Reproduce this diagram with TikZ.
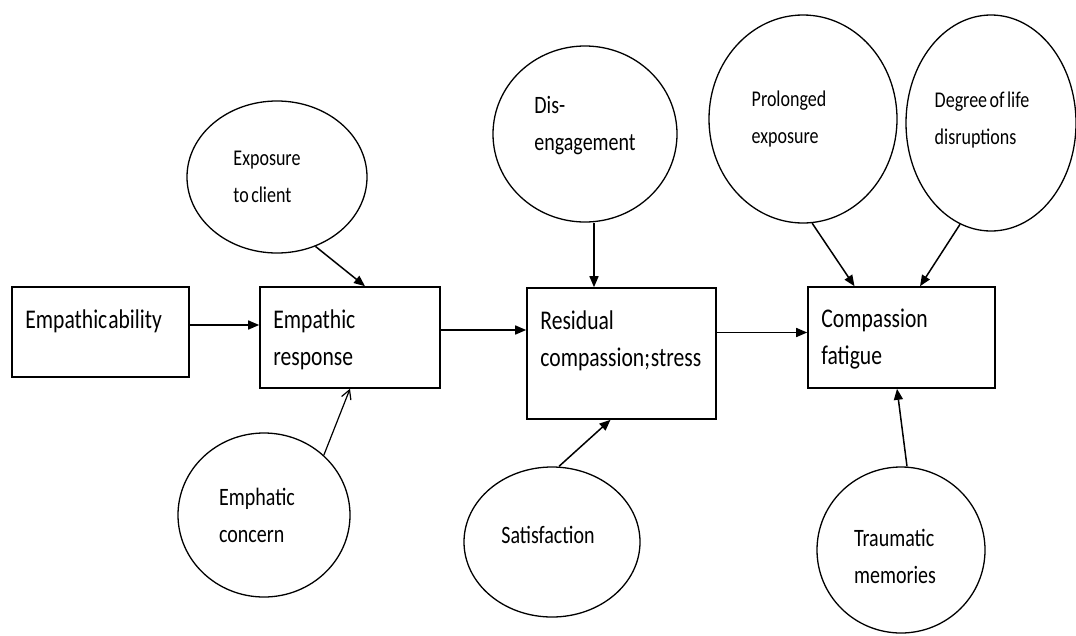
\documentclass[tikz,border=0pt]{standalone}
\usepackage{fontspec}
\setmainfont{Carlito}[FakeStretch=0.8,WordSpace=0.6]
\usetikzlibrary{arrows.meta,shapes.geometric}
\newcommand{\boxfont}{\fontsize{27}{37}\selectfont}
\newcommand{\bigfont}{\fontsize{25}{37}\selectfont}
\newcommand{\smallfont}{\fontsize{22.5}{37}\selectfont}

\begin{document}
\begin{tikzpicture}[x=1pt, y=-1pt,
    stage/.style={draw, rectangle, line width=1.6pt, inner sep=0pt,
      label={[anchor=north west, inner sep=0pt, align=left, font=\boxfont,
        xshift=14pt, yshift=-23pt]north west:{#1}}},
    cue/.style={draw, ellipse, line width=1.3pt, inner sep=0pt},
    arr/.style={line width=1.5pt, -{Triangle[length=11pt, width=9pt]}},
    openarr/.style={line width=1.2pt, -{Straight Barb[length=9pt, width=10pt]}}]
  \useasboundingbox (0,0) rectangle (1076,635);

  % main chain
  \node[stage={Empathic\hspace{-2pt} ability}, minimum width=177pt, minimum height=90pt] (ability) at (100.5,332) {};
  \node[stage={Empathic\\response}, minimum width=180pt, minimum height=101pt] (resp) at (350,337.5) {};
  \node[stage={Residual\\compassion;\hspace{-2pt} stress}, minimum width=189pt, minimum height=131pt] (resid) at (621.5,353.5) {};
  \node[stage={Compassion\\fatigue}, minimum width=187pt, minimum height=101pt] (fat) at (901.5,337.5) {};

  % influences
  \node[cue, minimum width=180pt, minimum height=152pt,
    label={[xshift=-10pt, align=left, font=\smallfont]center:{Exposure\\to client}}] (exposure) at (277,177) {};
  \node[cue, minimum width=172pt, minimum height=164pt,
    label={[xshift=-7pt, align=left, font=\bigfont]center:{Emphatic\\concern}}] (concern) at (264,515) {};
  \node[cue, minimum width=184pt, minimum height=176pt,
    label={[yshift=8pt, align=left, font=\bigfont]center:{Dis-\\engagement}}] (diseng) at (585,134) {};
  \node[cue, minimum width=176pt, minimum height=150pt,
    label={[xshift=-4pt, yshift=7pt, font=\bigfont]center:Satisfaction}] (satis) at (552,542) {};
  \node[cue, minimum width=188pt, minimum height=208pt,
    label={[xshift=-14pt, align=left, font=\smallfont]center:{Prolonged\\exposure}}] (prol) at (803,119) {};
  \node[cue, minimum width=170pt, minimum height=216pt,
    label={[xshift=-9pt, yshift=3pt, align=left, font=\smallfont]center:{Degree of life\\disruptions}}] (degree) at (991,123) {};
  \node[cue, minimum width=168pt, minimum height=166pt,
    label={[xshift=-6pt, yshift=-6pt, align=left, font=\bigfont]center:{Traumatic\\memories}}] (trauma) at (901,550) {};

  \draw[arr] ([yshift=7pt]ability.east) -- ([yshift=7pt]ability.east -| resp.west);
  \draw[arr] ([yshift=7.5pt]resp.east) -- ([yshift=7.5pt]resp.east -| resid.west);
  \draw[arr] ([yshift=21pt]resid.east) -- ([yshift=21pt]resid.east -| fat.west);

  \draw[arr] (exposure.-61) -- ([xshift=15pt]resp.north);
  \draw[openarr] (concern.45) -- (resp.south);
  \draw[arr] ([xshift=9pt]diseng.south) -- ([xshift=9pt]diseng.south |- resid.north);
  \draw[arr] ([xshift=7pt]satis.north) -- ([xshift=-11pt]resid.south);
  \draw[arr] (prol.-85) -- ([xshift=-47pt]fat.north);
  \draw[arr] (degree.-107) -- ([xshift=18.5pt]fat.north);
  \draw[arr] ([xshift=6pt]trauma.north) -- ([xshift=-4.5pt]fat.south);
\end{tikzpicture}
\end{document}
